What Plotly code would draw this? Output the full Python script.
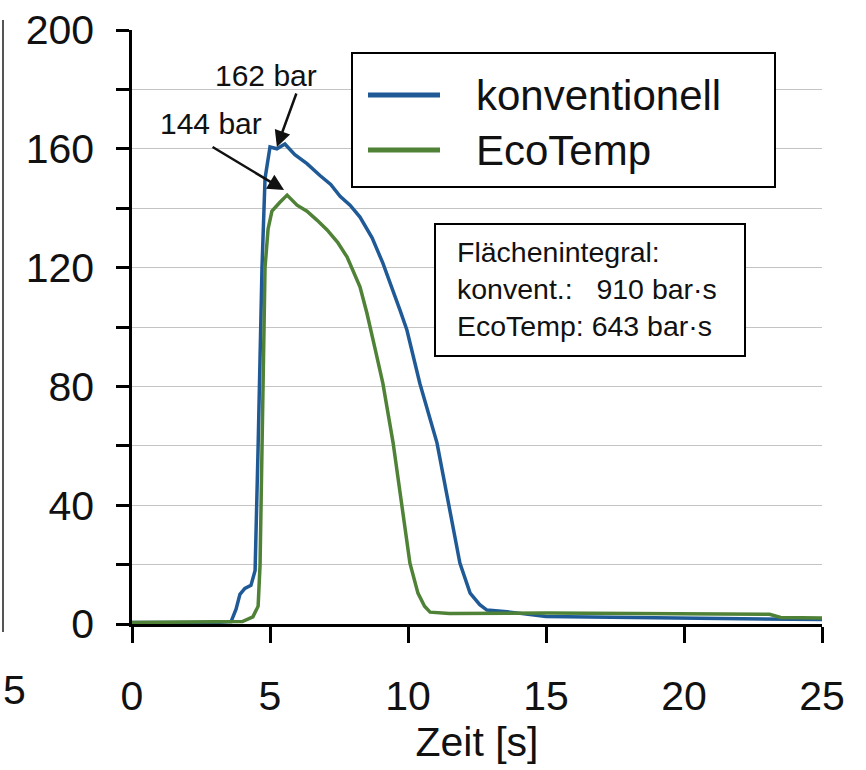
import plotly.graph_objects as go

# ---- data ----
konv_t = [0, 3.0, 3.59, 3.77, 3.91, 4.09, 4.31, 4.46, 4.57, 4.71, 4.82, 5.0, 5.25, 5.54, 5.9, 6.34,
          6.81, 7.2, 7.54, 7.9, 8.26, 8.7, 9.09, 9.4, 9.71, 9.96, 10.43, 11.05, 11.45, 11.88, 12.25,
          12.6, 12.86, 13.7, 15, 20, 25]
konv_p = [0.5, 0.5, 0.8, 5, 10, 12, 13, 18, 60, 120, 150, 160.6, 160, 161.6, 158, 155,
          151, 148, 144, 141, 137, 130, 121.5, 114, 105.7, 99, 81, 61, 40.7, 20.5, 10.4,
          6.5, 4.7, 4, 2.5, 2, 1.5]

eco_t = [0, 4.0, 4.38, 4.57, 4.64, 4.71, 4.75, 4.82, 4.93, 5.07, 5.36, 5.62, 5.98, 6.34, 6.7, 7.07,
         7.45, 7.79, 8.26, 8.51, 8.8, 9.09, 9.46, 9.78, 10.07, 10.36, 10.6, 10.8, 11.5, 15, 20, 23.1,
         23.5, 25]
eco_p = [0.5, 0.8, 2.4, 6, 20, 60, 90, 120, 133, 139, 142, 144.4, 141, 139, 136, 132.7,
         128.5, 123.6, 113.5, 104.7, 93, 81, 61, 40.7, 20.5, 10.4, 6, 4, 3.5, 3.7, 3.5, 3.3,
         2.2, 2]

x_ticks = [0, 5, 10, 15, 20, 25]
y_ticks = [0, 40, 80, 120, 160, 200]
series_names = ["konventionell", "EcoTemp"]
integral_text = "Flächenintegral:<br>konvent.:   910 bar·s<br>EcoTemp: 643 bar·s"

BLUE = "#1f5a97"
GREEN = "#4f8236"
FONT = "Liberation Sans, Arial, sans-serif"

W, H = 866, 770
# target plot area in window pixels: x 132..822, y 30..624
L, T = 132, 30
PW, PH = 690, 594
R = W - L - PW
B = H - T - PH


def px(x):
    return (x - L) / PW


def py(y):
    return (T + PH - y) / PH


fig = go.Figure()
fig.add_trace(go.Scatter(x=konv_t, y=konv_p, mode="lines", name=series_names[0],
                         line=dict(color=BLUE, width=3.5), showlegend=False))
fig.add_trace(go.Scatter(x=eco_t, y=eco_p, mode="lines", name=series_names[1],
                         line=dict(color=GREEN, width=3.5), showlegend=False))

shapes = []
annotations = []

# manual legend box
shapes.append(dict(type="rect", xref="paper", yref="paper", x0=px(352), x1=px(775), y0=py(187), y1=py(53),
                   line=dict(color="black", width=2), fillcolor="white", layer="above"))
for yy, col, name in [(95, BLUE, series_names[0]), (150, GREEN, series_names[1])]:
    shapes.append(dict(type="line", xref="paper", yref="paper", x0=px(368), x1=px(440), y0=py(yy), y1=py(yy),
                       line=dict(color=col, width=5), layer="above"))
    annotations.append(dict(xref="paper", yref="paper", x=px(474), y=py(yy), text=name, showarrow=False,
                            xanchor="left", yanchor="middle", font=dict(size=42, color="#111", family=FONT)))

# integral box
shapes.append(dict(type="rect", xref="paper", yref="paper", x0=px(435), x1=px(745), y0=py(356), y1=py(224),
                   line=dict(color="black", width=2), fillcolor="white", layer="above"))
annotations.append(dict(xref="paper", yref="paper", x=px(455), y=py(289), text=integral_text, showarrow=False,
                        xanchor="left", yanchor="middle", align="left",
                        font=dict(size=28.5, color="#111", family=FONT)))

# peak labels and arrows
annotations.append(dict(x=4.85, y=184.8, text="162 bar", showarrow=False, xanchor="center", yanchor="middle",
                        font=dict(size=30, color="#111", family=FONT)))
annotations.append(dict(x=2.86, y=168.5, text="144 bar", showarrow=False, xanchor="center", yanchor="middle",
                        font=dict(size=30, color="#111", family=FONT)))
annotations.append(dict(x=5.25, y=160.6, text="", showarrow=True, ax=20, ay=-55,
                        arrowhead=2, arrowsize=1.3, arrowwidth=2.5, arrowcolor="#111"))
annotations.append(dict(x=5.51, y=146.1, text="", showarrow=True, ax=-73, ay=-44,
                        arrowhead=2, arrowsize=1.3, arrowwidth=2.5, arrowcolor="#111"))

# scan artifacts at the left edge
shapes.append(dict(type="line", xref="paper", yref="paper", x0=px(3), x1=px(3), y0=py(632), y1=py(20),
                   line=dict(color="#555", width=2)))
annotations.append(dict(xref="paper", yref="paper", x=px(1), y=py(690), text="5", showarrow=False,
                        xanchor="left", yanchor="middle",
                        font=dict(size=41, color="#111", family=FONT)))

fig.update_layout(
    width=W, height=H,
    margin=dict(l=L, r=R, t=T, b=B, autoexpand=False),
    paper_bgcolor="white", plot_bgcolor="white",
    font=dict(family=FONT, color="#111"),
    shapes=shapes, annotations=annotations,
    xaxis=dict(range=[0, 25], tickvals=x_ticks, ticktext=[str(v) for v in x_ticks],
               showgrid=False, zeroline=False, showline=True, linecolor="black", linewidth=2.5,
               ticks="outside", ticklen=16, tickwidth=2.5, tickcolor="black", ticklabeloverflow="allow",
               tickfont=dict(size=41, family=FONT, color="#111"), ticklabelstandoff=18,
               title=dict(text="Zeit [s]", font=dict(size=41, family=FONT, color="#111"), standoff=2)),
    yaxis=dict(range=[0, 200], tickvals=y_ticks, ticktext=[str(v) for v in y_ticks],
               showgrid=True, gridcolor="#c4c4c4", gridwidth=1, zeroline=False,
               showline=True, linecolor="black", linewidth=2.5, ticklabeloverflow="allow",
               ticks="outside", ticklen=13, tickwidth=2.5, tickcolor="black",
               tickfont=dict(size=41, family=FONT, color="#111"), ticklabelstandoff=14,
               minor=dict(dtick=20, tick0=0, ticks="outside", ticklen=13, tickwidth=2.5, tickcolor="black",
                          showgrid=True, gridcolor="#c4c4c4", gridwidth=1)),
)

fig.write_html("out.html", config={"displayModeBar": False},
               post_script="document.body.style.margin='0';document.body.style.overflow='hidden';")
